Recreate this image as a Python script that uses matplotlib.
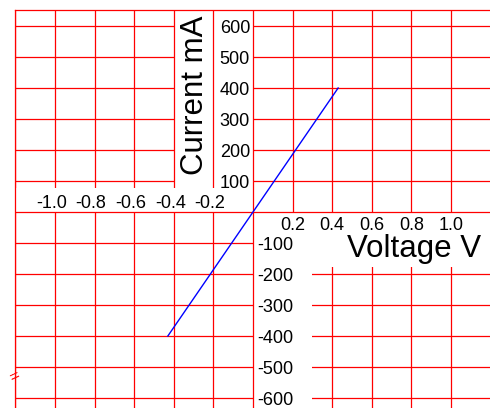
import matplotlib
matplotlib.use("Agg")
import matplotlib.pyplot as plt
from matplotlib.patches import Rectangle

# data
voltage = [-0.43, 0.43]
current = [-400, 400]
x_ticks_neg = [-1.0, -0.8, -0.6, -0.4, -0.2]
x_ticks_pos = [0.2, 0.4, 0.6, 0.8, 1.0]
y_ticks_pos = [100, 200, 300, 400, 500, 600]
y_ticks_neg = [-100, -200, -300, -400, -500, -600]
x_grid = [-1.2, -1.0, -0.8, -0.6, -0.4, -0.2, 0.2, 0.4, 0.6, 0.8, 1.0, 1.2]
xlim = (-1.2, 1.2)
ylim = (-650, 650)

plt.rcParams["font.family"] = ["Liberation Sans", "DejaVu Sans"]
RED = "#ff0000"

fig = plt.figure(figsize=(4.9, 4.08), dpi=100)
ax = fig.add_axes([15.4 / 490, -5.5 / 408, 475.2 / 490, 403 / 408])
ax.set_xlim(*xlim)
ax.set_ylim(*ylim)
ax.set_xticks([])
ax.set_yticks([])
for s in ax.spines.values():
    s.set_color(RED)
    s.set_linewidth(0.9)

# horizontal grid under the first label box, vertical grid above it
ax.hlines(y_ticks_pos + y_ticks_neg, *xlim, color=RED, lw=0.9, zorder=1)
ax.add_patch(Rectangle((-0.4, 80), 0.4, 600, facecolor="white", edgecolor="none", zorder=1.5))
ax.vlines(x_grid, *ylim, color=RED, lw=0.9, zorder=2)

# label bands that hide both grids
for x0, y0, w, h in [(-1.2, 0, 1.2, 77), (0.3, -177, 0.95, 177), (0, -700, 0.3, 700)]:
    ax.add_patch(Rectangle((x0, y0), w, h, facecolor="white", edgecolor="none", zorder=2.5))

ax.axhline(0, color=RED, lw=0.9, zorder=3)
ax.axvline(0, color=RED, lw=0.9, zorder=3)

ax.plot(voltage, current, color="blue", lw=1.0, zorder=4)

fs = 13
for v in x_ticks_neg:
    ax.text(v - 0.018, 13, f"{v:.1f}", ha="center", va="baseline", fontsize=fs, zorder=5)
for v in x_ticks_pos:
    ax.text(v, -57, f"{v:.1f}", ha="center", va="baseline", fontsize=fs, zorder=5)
for v in y_ticks_pos:
    ax.text(-0.015, v - 22, f"{v}", ha="right", va="baseline", fontsize=fs, zorder=5)
for v in y_ticks_neg:
    ax.text(0.02, v - 22, f"{v}", ha="left", va="baseline", fontsize=fs, zorder=5)

ax.text(-0.254, 377, "Current mA", rotation=90, rotation_mode="anchor",
        ha="center", va="baseline", fontsize=22.5, zorder=5)
ax.text(0.813, -145, "Voltage V", ha="center", va="baseline", fontsize=22.5, zorder=5)

# axis break mark on the left edge
ax.text(-1.2, -535, "=", rotation=25, ha="center", va="center", color=RED,
        fontsize=12, zorder=5, clip_on=False)

fig.savefig("out.png", dpi=100)
